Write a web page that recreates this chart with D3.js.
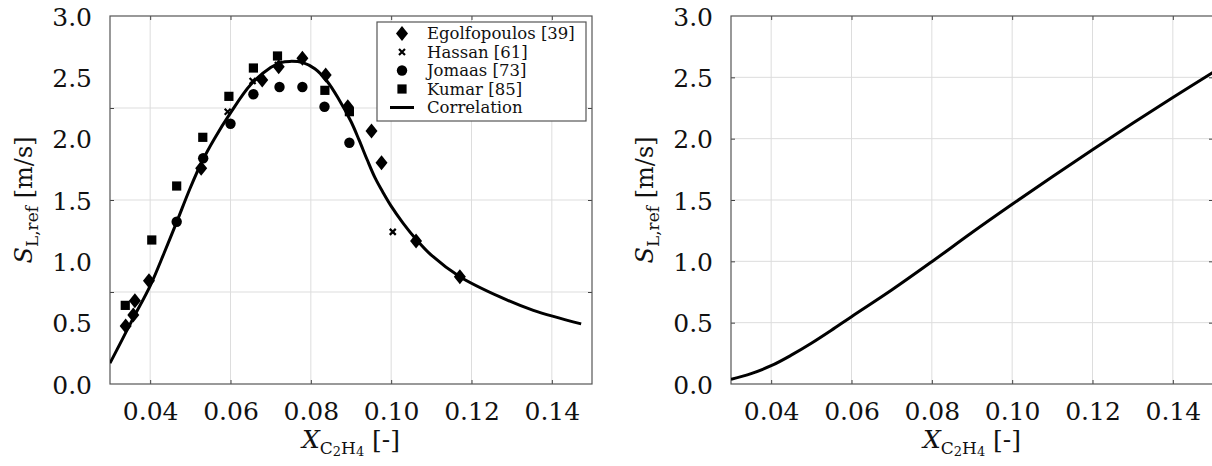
<!DOCTYPE html>
<html>
<head>
<meta charset="utf-8">
<script src="https://cdn.jsdelivr.net/npm/d3@7"></script>
<style>
  body { margin: 0; background: #fff; }
  svg text { font-family: "DejaVu Serif", serif; fill: #111; }
</style>
</head>
<body>
<svg id="chart"></svg>
<script>
// ---- data ----
var xTicks = [0.04, 0.06, 0.08, 0.10, 0.12, 0.14];
var yTickLabels = [0, 0.5, 1.0, 1.5, 2.0, 2.5, 3.0];
var leftGrid = [0.75, 1.5, 2.25];
var rightGrid = [0.5, 1.0, 1.5, 2.0, 2.5];

var egolfX = [0.0339, 0.0358, 0.0362, 0.0397, 0.0527, 0.0679, 0.0720, 0.0779, 0.0837, 0.0892, 0.0951, 0.0976, 0.1062, 0.1171];
var egolfY = [0.473, 0.562, 0.679, 0.842, 1.758, 2.478, 2.587, 2.655, 2.519, 2.26, 2.062, 1.804, 1.166, 0.875];

var hassanX = [0.0593, 0.0655, 0.0718, 0.1004];
var hassanY = [2.22, 2.47, 2.60, 1.24];

var jomaasX = [0.0466, 0.0532, 0.0600, 0.0657, 0.0722, 0.0779, 0.0834, 0.0896];
var jomaasY = [1.323, 1.84, 2.122, 2.362, 2.421, 2.421, 2.26, 1.967];

var kumarX = [0.0338, 0.0404, 0.0466, 0.0531, 0.0596, 0.0657, 0.0717, 0.0835, 0.0896];
var kumarY = [0.641, 1.174, 1.614, 2.011, 2.345, 2.576, 2.674, 2.394, 2.22];

// correlation curve, left panel
var corrX = [0.030, 0.033, 0.036, 0.040, 0.0435, 0.0466, 0.050, 0.053, 0.056, 0.060, 0.065, 0.070, 0.0725, 0.0748, 0.078, 0.081, 0.084, 0.087, 0.090, 0.092, 0.094, 0.096, 0.098, 0.100, 0.103, 0.1062, 0.110, 0.1171, 0.1271, 0.1354, 0.1473];
var corrY = [0.17, 0.36, 0.55, 0.80, 1.07, 1.32, 1.60, 1.82, 2.00, 2.21, 2.44, 2.58, 2.62, 2.63, 2.62, 2.57, 2.47, 2.32, 2.14, 1.99, 1.83, 1.68, 1.56, 1.45, 1.31, 1.18, 1.05, 0.875, 0.71, 0.60, 0.49];

// right panel curve
var rightX = [0.030, 0.035, 0.040, 0.045, 0.050, 0.055, 0.060, 0.070, 0.080, 0.090, 0.100, 0.110, 0.120, 0.130, 0.140, 0.150];
var rightY = [0.038, 0.085, 0.149, 0.235, 0.332, 0.438, 0.549, 0.766, 0.997, 1.235, 1.465, 1.690, 1.910, 2.125, 2.335, 2.540];

var legendNames = ["Egolfopoulos [39]", "Hassan [61]", "Jomaas [73]", "Kumar [85]", "Correlation"];

// ---- layout ----
var width = 1212, height = 466;
var plotTop = 16, plotBottom = 384;

var svg = d3.select("#chart")
    .attr("width", width)
    .attr("height", height);

var defs = svg.append("defs");

function marker(sel, type) {
  if (type === "diamond") {
    sel.append("path").attr("d", "M0,-7.5L6,0L0,7.5L-6,0Z").attr("fill", "#000");
  } else if (type === "circle") {
    sel.append("circle").attr("r", 5.2).attr("fill", "#000");
  } else if (type === "square") {
    sel.append("rect").attr("x", -4.6).attr("y", -4.6).attr("width", 9.2).attr("height", 9.2).attr("fill", "#000");
  } else if (type === "cross") {
    sel.append("path").attr("d", "M-3,-3L3,3M-3,3L3,-3")
        .attr("stroke", "#000").attr("stroke-width", 2.2).attr("fill", "none");
  }
}

function drawPanel(id, left, right, grid) {
  var x = d3.scaleLinear().domain([0.03, 0.15]).range([left, right]);
  var y = d3.scaleLinear().domain([0, 3]).range([plotBottom, plotTop]);
  var g = svg.append("g");

  defs.append("clipPath").attr("id", "clip" + id)
    .append("rect").attr("x", left).attr("y", plotTop)
    .attr("width", right - left).attr("height", plotBottom - plotTop);

  // grid lines
  g.append("g").selectAll("line").data(xTicks).enter().append("line")
      .attr("x1", function(d) { return x(d); }).attr("x2", function(d) { return x(d); })
      .attr("y1", plotTop).attr("y2", plotBottom)
      .attr("stroke", "#dddddd").attr("stroke-width", 1);
  g.append("g").selectAll("line").data(grid).enter().append("line")
      .attr("x1", left).attr("x2", right)
      .attr("y1", function(d) { return y(d); }).attr("y2", function(d) { return y(d); })
      .attr("stroke", "#dddddd").attr("stroke-width", 1);

  // inward ticks on all four sides
  var tickStyle = function(a) {
    a.select(".domain").remove();
    a.selectAll(".tick line").attr("stroke", "#444");
    a.selectAll("text").remove();
  };
  g.append("g").attr("transform", "translate(0," + plotBottom + ")")
      .call(d3.axisBottom(x).tickValues(xTicks).tickSize(-4)).call(tickStyle);
  g.append("g").attr("transform", "translate(0," + plotTop + ")")
      .call(d3.axisTop(x).tickValues(xTicks).tickSize(-4)).call(tickStyle);
  g.append("g").attr("transform", "translate(" + left + ",0)")
      .call(d3.axisLeft(y).tickValues(grid).tickSize(-4)).call(tickStyle);
  g.append("g").attr("transform", "translate(" + right + ",0)")
      .call(d3.axisRight(y).tickValues(grid).tickSize(-4)).call(tickStyle);

  // tick labels
  var xl = g.append("g").attr("transform", "translate(0," + plotBottom + ")")
      .call(d3.axisBottom(x).tickValues(xTicks).tickSize(0).tickPadding(0).tickFormat(d3.format(".2f")));
  xl.select(".domain").remove();
  xl.attr("font-family", null).attr("font-size", null);
  xl.selectAll("text").attr("font-size", 25).attr("dy", null).attr("y", 36).attr("fill", "#111");

  var yl = g.append("g").attr("transform", "translate(" + left + ",0)")
      .call(d3.axisLeft(y).tickValues(yTickLabels).tickSize(0).tickPadding(18).tickFormat(d3.format(".1f")));
  yl.select(".domain").remove();
  yl.attr("font-family", null).attr("font-size", null);
  yl.selectAll("text").attr("font-size", 25).attr("dy", "0.36em").attr("fill", "#111");

  // frame
  g.append("rect").attr("x", left).attr("y", plotTop)
      .attr("width", right - left).attr("height", plotBottom - plotTop)
      .attr("fill", "none").attr("stroke", "#555").attr("stroke-width", 1.2);

  // axis titles
  var cx = (left + right) / 2;
  var xt = g.append("text").attr("x", cx).attr("y", 448)
      .attr("text-anchor", "middle").attr("font-size", 25);
  xt.append("tspan").attr("font-style", "italic").text("X");
  xt.append("tspan").attr("font-size", 17).attr("dy", 6).text("C");
  xt.append("tspan").attr("font-size", 13).attr("dy", 2).text("2");
  xt.append("tspan").attr("font-size", 17).attr("dy", -2).text("H");
  xt.append("tspan").attr("font-size", 13).attr("dy", 2).text("4");
  xt.append("tspan").attr("dy", -8).text("\u00a0[-]");

  var yt = g.append("text")
      .attr("transform", "translate(" + (left - 78) + "," + ((plotTop + plotBottom) / 2) + ") rotate(-90)")
      .attr("text-anchor", "middle").attr("font-size", 24);
  yt.append("tspan").attr("font-style", "italic").text("S");
  yt.append("tspan").attr("font-size", 17).attr("dy", 6).text("L,ref");
  yt.append("tspan").attr("dy", -6).text("\u00a0[m/s]");

  return { g: g, x: x, y: y, clip: "url(#clip" + id + ")" };
}

var line = function(x, y) {
  return d3.line()
      .x(function(d) { return x(d[0]); })
      .y(function(d) { return y(d[1]); })
      .curve(d3.curveCatmullRom.alpha(0.5));
};

// ---- left panel ----
var L = drawPanel("L", 110, 592, leftGrid);

L.g.append("path")
    .datum(d3.zip(corrX, corrY))
    .attr("clip-path", L.clip)
    .attr("d", line(L.x, L.y))
    .attr("fill", "none").attr("stroke", "#000").attr("stroke-width", 3);

var series = [
  { xs: egolfX, ys: egolfY, type: "diamond" },
  { xs: hassanX, ys: hassanY, type: "cross" },
  { xs: jomaasX, ys: jomaasY, type: "circle" },
  { xs: kumarX, ys: kumarY, type: "square" }
];

series.forEach(function(s) {
  L.g.append("g").selectAll("g").data(d3.zip(s.xs, s.ys)).enter().append("g")
      .attr("transform", function(d) { return "translate(" + L.x(d[0]) + "," + L.y(d[1]) + ")"; })
      .each(function() { marker(d3.select(this), s.type); });
});

// legend
var lg = L.g.append("g").attr("transform", "translate(377,22)");
lg.append("rect").attr("width", 209).attr("height", 99)
    .attr("fill", "#fff").attr("stroke", "#555").attr("stroke-width", 1.2);
var types = ["diamond", "cross", "circle", "square", "line"];
legendNames.forEach(function(name, i) {
  var row = lg.append("g").attr("transform", "translate(25," + (11.5 + i * 18.5) + ")");
  if (types[i] === "line") {
    row.append("line").attr("x1", -12).attr("x2", 12)
        .attr("stroke", "#000").attr("stroke-width", 3);
  } else {
    marker(row, types[i]);
  }
  row.append("text").attr("x", 25).attr("y", 5.5).attr("font-size", 16.5).text(name);
});

// ---- right panel ----
var R = drawPanel("R", 731, 1213, rightGrid);

R.g.append("path")
    .datum(d3.zip(rightX, rightY))
    .attr("clip-path", R.clip)
    .attr("d", line(R.x, R.y))
    .attr("fill", "none").attr("stroke", "#000").attr("stroke-width", 3);
</script>
</body>
</html>
